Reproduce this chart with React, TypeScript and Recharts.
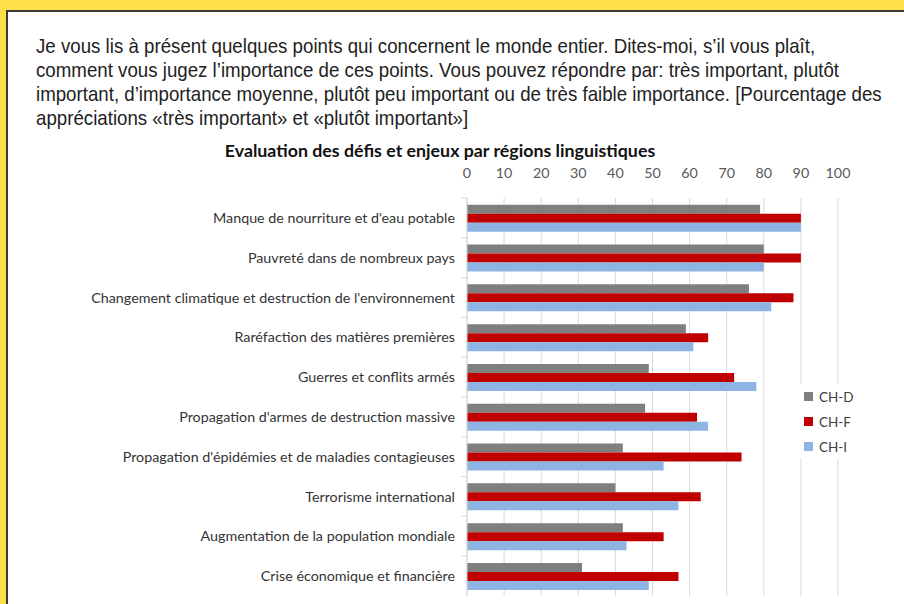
import React from 'react';
import {
  BarChart, Bar, XAxis, YAxis, CartesianGrid,
} from 'recharts';

const categories = [
  "Manque de nourriture et d'eau potable",
  'Pauvreté dans de nombreux pays',
  "Changement climatique et destruction de l'environnement",
  'Raréfaction des matières premières',
  'Guerres et conflits armés',
  "Propagation d'armes de destruction massive",
  "Propagation d'épidémies et de maladies contagieuses",
  'Terrorisme international',
  'Augmentation de la population mondiale',
  'Crise économique et financière',
];

const chD = [79, 80, 76, 59, 49, 48, 42, 40, 42, 31];
const chF = [90, 90, 88, 65, 72, 62, 74, 63, 53, 57];
const chI = [90, 80, 82, 61, 78, 65, 53, 57, 43, 49];

const xTicks = [0, 10, 20, 30, 40, 50, 60, 70, 80, 90, 100];

const series = [
  { key: 'CH-D', color: '#7f7f7f' },
  { key: 'CH-F', color: '#c00000' },
  { key: 'CH-I', color: '#8db4e2' },
];

const data = categories.map((name, i) => ({
  name,
  'CH-D': chD[i],
  'CH-F': chF[i],
  'CH-I': chI[i],
}));

// question text, one entry per printed line
const questionLines = [
  'Je vous lis à présent quelques points qui concernent le monde entier. Dites-moi, s’il vous plaît,',
  'comment vous jugez l’importance de ces points. Vous pouvez répondre par: très important, plutôt',
  'important, d’importance moyenne, plutôt peu important ou de très faible importance. [Pourcentage des',
  'appréciations «très important» et «plutôt important»]',
];

const labelFont = 'Lato, "Open Sans", sans-serif';
const PLOT_TOP = 198;
const PLOT_BOTTOM = 596;
const BAND = (PLOT_BOTTOM - PLOT_TOP) / categories.length;

function CategoryTick(props: any) {
  const { x, y, payload } = props;
  return (
    <g>
      <line x1={x + 2} x2={x + 8} y1={y - BAND / 2} y2={y - BAND / 2} stroke="#d9d9d9" />
      <text x={x - 4} y={y} dy={5} textAnchor="end" fontSize={14.3} fill="#333" fontFamily={labelFont}>
        {payload.value}
      </text>
    </g>
  );
}

function LegendBox() {
  return (
    <div
      style={{
        position: 'absolute', left: 796, top: 384, width: 62, background: '#fff',
        padding: '0 0 0 8px', fontFamily: labelFont, fontSize: 13.5, color: '#404040',
      }}
    >
      {series.map((s) => (
        <div key={s.key} style={{ display: 'flex', alignItems: 'center', height: 25 }}>
          <span style={{ width: 9, height: 9, background: s.color, display: 'inline-block', marginRight: 6 }} />
          {s.key}
        </div>
      ))}
    </div>
  );
}

export default function App() {
  return (
    <div style={{ position: 'absolute', left: 0, top: 0, width: 904, height: 604, background: '#fde047', overflow: 'hidden' }}>
      <div
        style={{
          position: 'absolute', left: 6, top: 10, width: 904, height: 604,
          background: '#fff', borderTop: '2px solid #3a3a3a', borderLeft: '2px solid #3a3a3a',
        }}
      />
      <div
        style={{
          position: 'absolute', left: 36, top: 34, whiteSpace: 'nowrap',
          transform: 'scaleX(0.89)', transformOrigin: '0 0',
          fontFamily: '"Liberation Sans", Arial, sans-serif', fontSize: 21, lineHeight: '24px', color: '#222',
        }}
      >
        {questionLines.map((l) => <div key={l}>{l}</div>)}
      </div>
      <div
        style={{
          position: 'absolute', left: 0, top: 139, width: 880, textAlign: 'center',
          fontFamily: labelFont, fontWeight: 700, fontSize: 17.8, color: '#111',
        }}
      >
        Evaluation des défis et enjeux par régions linguistiques
      </div>
      <div style={{ position: 'absolute', left: 0, top: 0 }}>
        <BarChart
          width={904}
          height={604}
          data={data}
          layout="vertical"
          margin={{ top: PLOT_TOP - 30, right: 66, bottom: 604 - PLOT_BOTTOM, left: 0 }}
          barCategoryGap="17%"
          barGap={0}
        >
          <CartesianGrid horizontal={false} stroke="#d9d9d9" />
          <XAxis
            type="number"
            orientation="top"
            domain={[0, 100]}
            ticks={xTicks}
            height={30}
            axisLine={false}
            tickLine={false}
            interval={0}
            tickMargin={14}
            tick={{ fontSize: 14.3, fill: '#595959', fontFamily: labelFont }}
          />
          <YAxis
            type="category"
            dataKey="name"
            width={467}
            axisLine={{ stroke: '#d9d9d9' }}
            tickLine={false}
            interval={0}
            tick={<CategoryTick />}
          />
          {series.map((s) => (
            <Bar key={s.key} dataKey={s.key} fill={s.color} isAnimationActive={false} />
          ))}
        </BarChart>
      </div>
      <LegendBox />
    </div>
  );
}
